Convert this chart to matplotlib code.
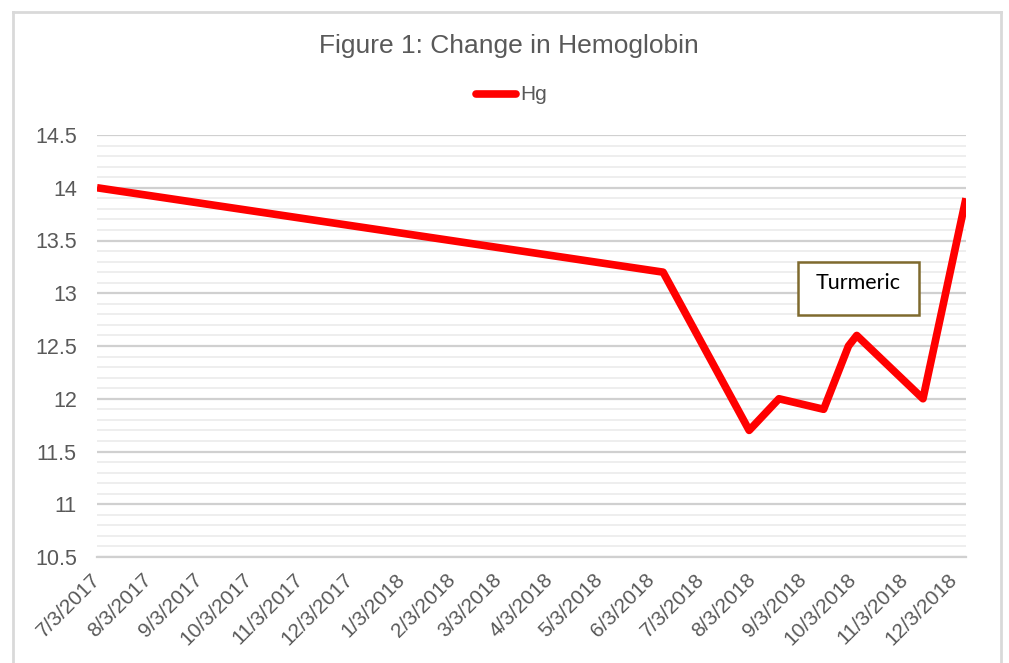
import matplotlib
matplotlib.use("Agg")
import matplotlib.pyplot as plt
from matplotlib.ticker import MultipleLocator
from matplotlib.patches import Rectangle
from matplotlib.lines import Line2D
from datetime import datetime

plt.rcParams['font.family'] = ['Liberation Sans', 'DejaVu Sans']

# Data
point_dates = ["2017-07-03", "2018-06-10", "2018-08-01", "2018-08-19", "2018-09-15",
               "2018-09-30", "2018-10-05", "2018-11-14", "2018-12-10"]
hg_values = [14.0, 13.2, 11.7, 12.0, 11.9, 12.5, 12.6, 12.0, 13.9]
tick_labels = ["7/3/2017", "8/3/2017", "9/3/2017", "10/3/2017", "11/3/2017", "12/3/2017",
               "1/3/2018", "2/3/2018", "3/3/2018", "4/3/2018", "5/3/2018", "6/3/2018",
               "7/3/2018", "8/3/2018", "9/3/2018", "10/3/2018", "11/3/2018", "12/3/2018"]
y_ticks = [10.5, 11, 11.5, 12, 12.5, 13, 13.5, 14, 14.5]
y_tick_labels = ["10.5", "11", "11.5", "12", "12.5", "13", "13.5", "14", "14.5"]

x = [datetime.strptime(d, "%Y-%m-%d") for d in point_dates]
tick_dates = [datetime.strptime(t, "%m/%d/%Y") for t in tick_labels]

W, H = 1009, 663
fig = plt.figure(figsize=(W / 100, H / 100), dpi=100)
fig.patch.set_facecolor("white")

ax_l, ax_r, ax_t, ax_b = 97, 966, 135, 557
ax = fig.add_axes([ax_l / W, 1 - ax_b / H, (ax_r - ax_l) / W, (ax_b - ax_t) / H])

ax.set_ylim(10.5, 14.5)
ax.set_xlim(x[0], x[-1])

ax.yaxis.set_minor_locator(MultipleLocator(0.1))
ax.set_yticks(y_ticks)
ax.set_yticklabels(y_tick_labels)
ax.grid(True, which='major', axis='y', color='#d0d0d0', linewidth=1.6, zorder=0)
ax.grid(True, which='minor', axis='y', color='#ebebeb', linewidth=1.2, zorder=0)
ax.set_axisbelow(True)

ax.set_xticks(tick_dates)
ax.set_xticklabels(tick_labels, rotation=45, ha='right', va='center',
                   rotation_mode='anchor', fontsize=15, color='#595959')
ax.tick_params(axis='x', length=0, pad=14)
ax.tick_params(axis='y', length=0, pad=14.5, labelsize=15.5, labelcolor='#595959')
ax.tick_params(which='minor', length=0)

for s in ['top', 'right', 'left']:
    ax.spines[s].set_visible(False)
ax.spines['bottom'].set_color('#d0d0d0')
ax.spines['bottom'].set_linewidth(1.6)

ax.plot(x, hg_values, color='#ff0000', linewidth=5.5, solid_joinstyle='round',
        solid_capstyle='butt', zorder=3)

# Title
fig.text(509 / W, 1 - 46 / H, "Figure 1: Change in Hemoglobin", ha='center', va='center',
         fontsize=19, color='#595959')

# Legend
fig.add_artist(Line2D([476 / W, 516 / W], [1 - 94 / H, 1 - 94 / H], color='#ff0000',
                      linewidth=5.5, solid_capstyle='round'))
fig.text(520 / W, 1 - 94 / H, "Hg", ha='left', va='center', fontsize=15, color='#595959')

# Turmeric box
fig.add_artist(Rectangle((798 / W, 1 - 315 / H), (919 - 798) / W, (315 - 262) / H,
                         transform=fig.transFigure, facecolor='white',
                         edgecolor='#7f6a2e', linewidth=1.8, zorder=5))
fig.text(858 / W, 1 - 283 / H, "Turmeric", ha='center', va='center', fontsize=15.5,
         color='black', family=['Lato', 'DejaVu Sans'], zorder=6)

# Chart border
border_color = '#d9d9d9'
fig.add_artist(Line2D([13 / W, 13 / W], [0, 1 - 12 / H], color=border_color, linewidth=2))
fig.add_artist(Line2D([13 / W, 1001 / W], [1 - 12 / H, 1 - 12 / H], color=border_color, linewidth=2))
fig.add_artist(Line2D([1001 / W, 1001 / W], [0, 1 - 12 / H], color=border_color, linewidth=2))

fig.savefig("out.png", dpi=100, facecolor='white')
